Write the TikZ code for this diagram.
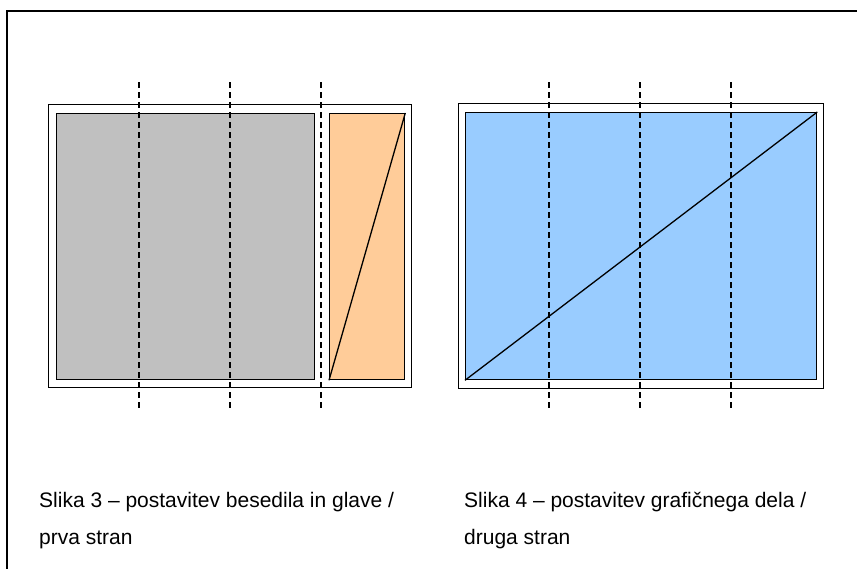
\documentclass[tikz,border=0pt]{standalone}
\usepackage{fontspec}
\setmainfont{Liberation Sans}
\usepackage{tikz}
\definecolor{textgray}{HTML}{C0C0C0}
\definecolor{headorange}{HTML}{FFCC99}
\definecolor{pictblue}{HTML}{99CCFF}
\newcommand{\guide}[1]{\draw[guide] (#1,82) -- (#1,409);}

\begin{document}
\begin{tikzpicture}[x=1pt,y=-1pt,
    box/.style={draw, line width=1.3pt, anchor=north west, inner sep=0pt},
    guide/.style={line width=1.4pt, dash pattern=on 6pt off 4pt},
    caption/.style={anchor=base west, inner sep=0pt, align=left,
      font=\fontsize{21}{37}\selectfont}]
    \clip (0,0) rectangle (857,568);
    \draw[line width=2pt] (7,580) -- (7,11) -- (870,11);

    % first page: text block and head
    \node[box, minimum width=363, minimum height=283] (leftpage) at (48,104) {};
    \node[box, fill=textgray, minimum width=258, minimum height=266] (textbox) at (56,113) {};
    \node[box, fill=headorange, minimum width=75, minimum height=266] (headbox) at (329,113) {};
    \draw[line width=1.3pt] (headbox.south west) -- (headbox.north east);

    % second page: picture
    \node[box, minimum width=365, minimum height=285] (rightpage) at (458,103) {};
    \node[box, fill=pictblue, minimum width=351, minimum height=267] (pictbox) at (465,112) {};
    \draw[line width=1.3pt] (pictbox.south west) -- (pictbox.north east);

    \guide{139}
    \guide{230}
    \guide{321}
    \guide{549}
    \guide{640}
    \guide{731}

    \node[caption] (leftcap) at (39,544) {Slika 3 – postavitev besedila in glave /\\prva stran};
    \node[caption] (rightcap) at (464,544) {Slika 4 – postavitev grafičnega dela /\\druga stran};
  \end{tikzpicture}
\end{document}
